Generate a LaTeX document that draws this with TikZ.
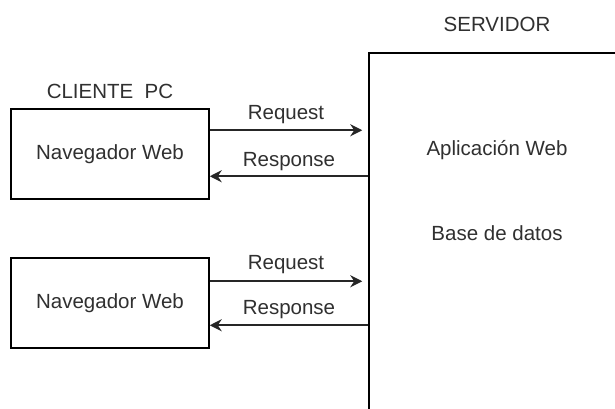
\documentclass[tikz,border=0pt]{standalone}
\usepackage{fontspec}
\setmainfont{Liberation Sans}
\usetikzlibrary{arrows.meta,calc}
\definecolor{txt}{HTML}{303030}
\tikzset{
  box/.style={draw=black, line width=1.5pt, fill=white, rectangle, inner sep=0pt},
  lbl/.style={text=txt, font=\fontsize{20.5}{24}\selectfont, inner sep=0pt},
  link/.style={draw=black!85, line width=1.6pt, -{Stealth[length=12pt,width=12pt,inset=4pt]}},
}
\begin{document}
\begin{tikzpicture}[x=1pt,y=-1pt]
  \clip (0,0) rectangle (615,409);
  \fill[white] (0,0) rectangle (615,409);

  % server box (runs off the right and bottom edges)
  \node[box, minimum width=256pt, minimum height=367pt] (srv) at (497,236.5) {};
  \node[lbl] (srvtitle) at (497,24) {SERVIDOR};
  \node[lbl] (app) at (497,150) {Aplicación Web};
  \node[lbl] (db) at (497,233) {Base de datos};

  % client browsers
  \node[lbl] (cltitle) at (110,91) {CLIENTE\ \ PC};
  \node[box, minimum width=198pt, minimum height=90pt, lbl, text=txt] (c1) at (110,154) {Navegador Web};
  \node[box, minimum width=198pt, minimum height=90pt, lbl, text=txt] (c2) at (110,303) {Navegador Web};

  % request / response pairs
  \coordinate (r1a) at ($(c1.north east)+(0,22)$);
  \coordinate (r1b) at ($(srv.west |- r1a)+(-6,0)$);
  \coordinate (s1a) at ($(c1.north east)+(0,68)$);
  \coordinate (s1b) at (srv.west |- s1a);
  \draw[link] (r1a) -- node[lbl, midway, yshift=16pt] (req1) {Request} (r1b);
  \draw[link] (s1b) -- node[lbl, midway, yshift=15pt] (res1) {Response} (s1a);

  \coordinate (r2a) at ($(c2.north east)+(0,24)$);
  \coordinate (r2b) at ($(srv.west |- r2a)+(-6,0)$);
  \coordinate (s2a) at ($(c2.north east)+(0,68)$);
  \coordinate (s2b) at (srv.west |- s2a);
  \draw[link] (r2a) -- node[lbl, midway, yshift=17pt] (req2) {Request} (r2b);
  \draw[link] (s2b) -- node[lbl, midway, yshift=16pt] (res2) {Response} (s2a);
\end{tikzpicture}
\end{document}
